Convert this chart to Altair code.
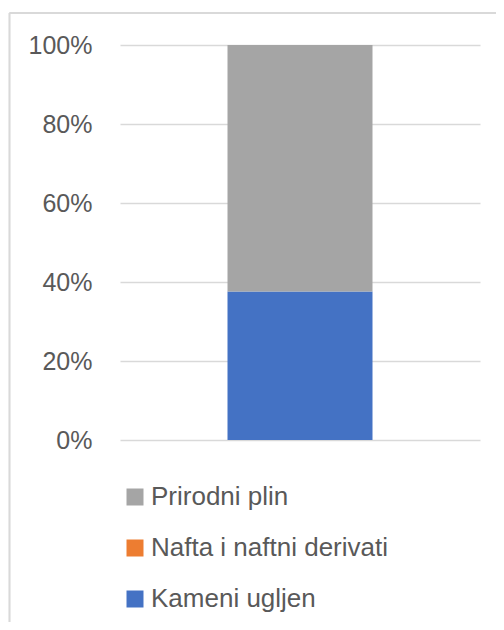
import altair as alt
import pandas as pd

categories = ["Kameni ugljen", "Nafta i naftni derivati", "Prirodni plin"]
shares = [37.6, 0.0, 62.4]
stack_order = [0, 1, 2]
legend_order = ["Prirodni plin", "Nafta i naftni derivati", "Kameni ugljen"]
colors = ["#A5A5A5", "#ED7D31", "#4472C4"]
tick_values = [0, 0.2, 0.4, 0.6, 0.8, 1.0]

df = pd.DataFrame({"grp": ["1"] * 3, "izvor": categories, "udio": shares, "ord": stack_order})

FONT = "Liberation Sans"
TXT = "#595959"
GRID = "#D9D9D9"

bars = alt.Chart(df).mark_bar(size=145).encode(
    x=alt.X("grp:N", axis=None),
    y=alt.Y(
        "udio:Q",
        stack="normalize",
        scale=alt.Scale(domain=[0, 1], nice=False),
        axis=alt.Axis(
            values=tick_values,
            format=".0%",
            title=None,
            domain=False,
            ticks=False,
            grid=True,
            gridColor=GRID,
            gridWidth=1.5,
            labelFont=FONT,
            labelFontSize=25,
            labelColor=TXT,
            labelPadding=28,
        ),
    ),
    color=alt.Color(
        "izvor:N",
        scale=alt.Scale(domain=legend_order, range=colors),
        legend=alt.Legend(
            title=None,
            orient="none",
            legendX=2,
            legendY=439,
            direction="vertical",
            symbolType="square",
            symbolSize=289,
            symbolStrokeWidth=0,
            labelFont=FONT,
            labelFontSize=26,
            labelColor=TXT,
            labelOffset=3,
            labelLimit=0,
            rowPadding=25,
        ),
    ),
    order=alt.Order("ord:Q"),
)

border_top = alt.Chart(df).mark_rule(color=GRID, strokeWidth=1.5).encode(
    x=alt.value(-110.5), x2=alt.value(420), y=alt.value(-32)
)
border_left = alt.Chart(df).mark_rule(color=GRID, strokeWidth=1.5).encode(
    x=alt.value(-110.5), y=alt.value(-32), y2=alt.value(620)
)

chart = (
    alt.layer(border_top, border_left, bars)
    .properties(
        width=360,
        height=395,
        autosize=alt.AutoSizeParams(type="none"),
        padding={"left": 112, "top": 37, "right": 16, "bottom": 182},
    )
    .configure_view(stroke=None)
)

chart.save("out.html", embed_options={"renderer": "svg", "actions": False})
